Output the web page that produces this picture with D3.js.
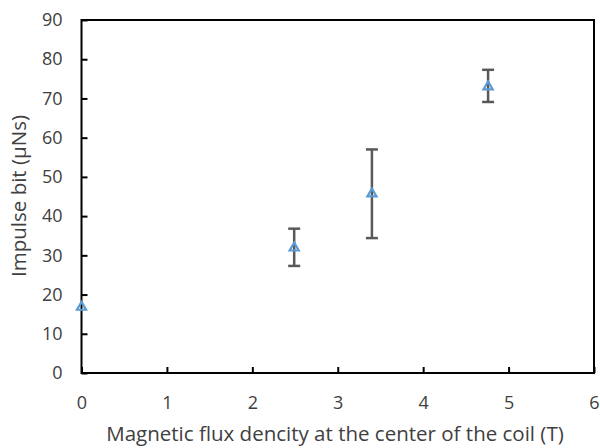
<!DOCTYPE html>
<html>
<head>
<meta charset="utf-8">
<script src="https://cdn.jsdelivr.net/npm/d3@7"></script>
<style>
  html, body { margin: 0; padding: 0; background: #fff; }
  text { font-family: "Open Sans", "Noto Sans", sans-serif; fill: #404040; }
</style>
</head>
<body>
<svg id="chart" width="600" height="448"></svg>
<script>
// B field at coil center (T) vs impulse bit (µNs)
const fluxDensity = [0, 2.49, 3.40, 4.76];
const impulseBit = [16.8, 31.9, 45.7, 73.0];
const errLow = [16.8, 27.3, 34.4, 69.1];
const errHigh = [16.8, 36.8, 57.0, 77.3];
const xTicks = [0, 1, 2, 3, 4, 5, 6];
const yTicks = [0, 10, 20, 30, 40, 50, 60, 70, 80, 90];

const svg = d3.select("#chart");
const plotL = 81.5, plotR = 594, plotT = 20, plotB = 373;

const x = d3.scaleLinear().domain([0, 6]).range([plotL, plotR]);
const y = d3.scaleLinear().domain([0, 90]).range([plotB, plotT]);

// frame
svg.append("rect")
    .attr("x", plotL).attr("y", plotT)
    .attr("width", plotR - plotL).attr("height", plotB - plotT)
    .attr("fill", "none").attr("stroke", "#000").attr("stroke-width", 2);

// y axis (ticks inside)
const yAxis = svg.append("g")
    .attr("transform", `translate(${plotL},0)`)
    .call(d3.axisLeft(y).tickValues(yTicks).tickFormat(d3.format("d"))
        .tickSizeInner(-6).tickSizeOuter(0).tickPadding(19));
yAxis.select(".domain").remove();
yAxis.selectAll("line").attr("stroke", "#000").attr("stroke-width", 2);
yAxis.selectAll("text").attr("font-size", 18).attr("fill", "#404040")
    .attr("font-family", "'Open Sans', sans-serif");

// x axis
const xAxis = svg.append("g")
    .attr("transform", `translate(0,${plotB})`)
    .call(d3.axisBottom(x).tickValues(xTicks).tickFormat(d3.format("d"))
        .tickSizeInner(-6).tickSizeOuter(0).tickPadding(23));
xAxis.select(".domain").remove();
xAxis.selectAll("line").attr("stroke", "#000").attr("stroke-width", 2);
xAxis.selectAll("text").attr("font-size", 18).attr("fill", "#404040")
    .attr("font-family", "'Open Sans', sans-serif");

// axis titles
svg.append("text")
    .attr("x", 335).attr("y", 441)
    .attr("text-anchor", "middle").attr("font-size", 20.5)
    .text("Magnetic flux dencity at the center of the coil (T)");

svg.append("text")
    .attr("transform", `translate(26,196) rotate(-90)`)
    .attr("text-anchor", "middle").attr("font-size", 20.5)
    .text("Impulse bit (µNs)");

const pts = fluxDensity.map((d, i) => ({ x: d, y: impulseBit[i], lo: errLow[i], hi: errHigh[i] }));

// error bars
const eb = svg.append("g").attr("stroke", "#595959").attr("stroke-width", 2.5);
pts.filter(d => d.hi > d.lo).forEach(d => {
    eb.append("line").attr("x1", x(d.x)).attr("x2", x(d.x)).attr("y1", y(d.lo)).attr("y2", y(d.hi));
    eb.append("line").attr("x1", x(d.x) - 6).attr("x2", x(d.x) + 6).attr("y1", y(d.lo)).attr("y2", y(d.lo));
    eb.append("line").attr("x1", x(d.x) - 6).attr("x2", x(d.x) + 6).attr("y1", y(d.hi)).attr("y2", y(d.hi));
});

// triangle markers
svg.append("g").selectAll("path")
    .data(pts)
    .join("path")
    .attr("transform", d => `translate(${x(d.x)},${y(d.y)})`)
    .attr("d", d3.symbol(d3.symbolTriangle, 36))
    .attr("fill", "none")
    .attr("stroke", "#5B9BD5")
    .attr("stroke-width", 2.2);
</script>
</body>
</html>
